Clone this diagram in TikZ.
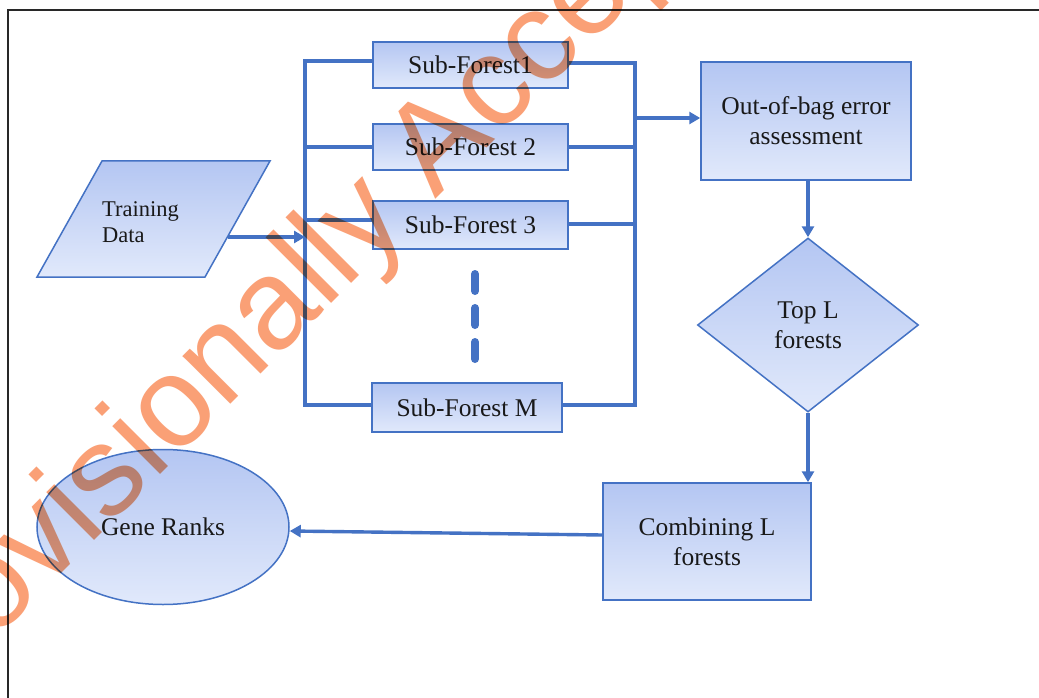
\documentclass[tikz,border=0pt]{standalone}
\usepackage{fontspec}
\setmainfont{Liberation Serif}
\newfontfamily\wmfont{Liberation Sans}
\usetikzlibrary{shapes.geometric,arrows.meta}
\definecolor{bblue}{RGB}{68,114,196}
\definecolor{ftop}{RGB}{180,198,242}
\definecolor{fbot}{RGB}{225,233,251}
\definecolor{wmorange}{RGB}{250,160,118}
\definecolor{framegray}{RGB}{40,40,40}
\begin{document}
\begin{tikzpicture}[x=1pt,y=-1pt,
  lbl/.style={font=\fontsize{25.5}{30}\selectfont, text=black!90, align=center},
  box/.style={lbl, draw=bblue, line width=1.5pt, top color=ftop, bottom color=fbot, inner sep=0pt},
  conn/.style={draw=bblue, line width=3.4pt},
  arr/.style={conn, -{Triangle[length=11pt,width=12pt]}},
]
\useasboundingbox (0,0) rectangle (1039,698);
\fill[white] (0,0) rectangle (1039,698);
% frame
\draw[framegray, line width=1.6pt] (8,698) -- (8,10) -- (1039,10);

% sub-forest boxes
\node[box, minimum width=195pt, minimum height=46pt] (sf1) at (470.5,65) {Sub-Forest1};
\node[box, minimum width=195pt, minimum height=46pt] (sf2) at (470.5,147) {Sub-Forest 2};
\node[box, minimum width=195pt, minimum height=48pt] (sf3) at (470.5,225) {Sub-Forest 3};
\node[box, minimum width=190pt, minimum height=49pt] (sfm) at (467,407.5) {Sub-Forest M};

% training data (parallelogram)
\shade[top color=ftop, bottom color=fbot, draw=bblue, line width=1.5pt]
  (37,277) -- (102,161) -- (270,161) -- (205,277) -- cycle;
\node[lbl, align=left, font=\fontsize{22.5}{26}\selectfont] (td) at (140.5,222) {Training\\Data};
\coordinate (tdout) at (228,237);

% right side nodes
\node[box, minimum width=210pt, minimum height=118pt] (oob) at (806,121) {Out-of-bag error\\assessment};
\node[box, diamond, aspect=1.27, minimum width=221pt, minimum height=174pt] (top) at (808,325) {Top L\\forests};
\node[box, minimum width=208pt, minimum height=117pt] (comb) at (707,541.5) {Combining L\\forests};
\node[box, ellipse, minimum width=252pt, minimum height=155pt] (gr) at (163,527) {Gene Ranks};

% buses
\coordinate (lbt) at (305,61);
\coordinate (lbb) at (305,405);
\coordinate (rbt) at (635,63);
\coordinate (rbb) at (635,405);
\draw[conn] (sf1.west|-lbt) -- (lbt) -- (lbb) -- (sfm.west|-lbb);
\draw[conn] (sf2.west) -- (sf2.west-|lbt);
\draw[conn] ([yshift=5pt]sf3.west) -- ([yshift=5pt]sf3.west-|lbt);
\draw[conn] (sf1.east|-rbt) -- (rbt) -- (rbb) -- (sfm.east|-rbb);
\draw[conn] (sf2.east) -- (sf2.east-|rbt);
\draw[conn] ([yshift=1pt]sf3.east) -- ([yshift=1pt]sf3.east-|rbt);

% arrows
\draw[arr] (tdout) -- (tdout-|lbt);
\draw[arr] ([yshift=3pt]oob.west-|rbt) -- ([yshift=3pt]oob.west);
\draw[arr] (top.north|-oob.south) -- (top.north);
\draw[arr] (top.south) -- (top.south|-comb.north);
\draw[arr] ([yshift=6.5pt]comb.west) -- ([yshift=-4pt]gr.east);

% dots
\draw[bblue, line width=8pt, line cap=round, dash pattern=on 17pt off 17pt] (475,274) -- (475,362);

% watermark
\begin{scope}[blend mode=multiply]
\clip (0,0) rectangle (1039,698);
\node[rotate=45, anchor=base, text=wmorange, font=\wmfont\fontsize{128}{128}\selectfont, inner sep=0pt] (wm) at (358,277) {Provisionally Accepted};
\end{scope}
\end{tikzpicture}
\end{document}
